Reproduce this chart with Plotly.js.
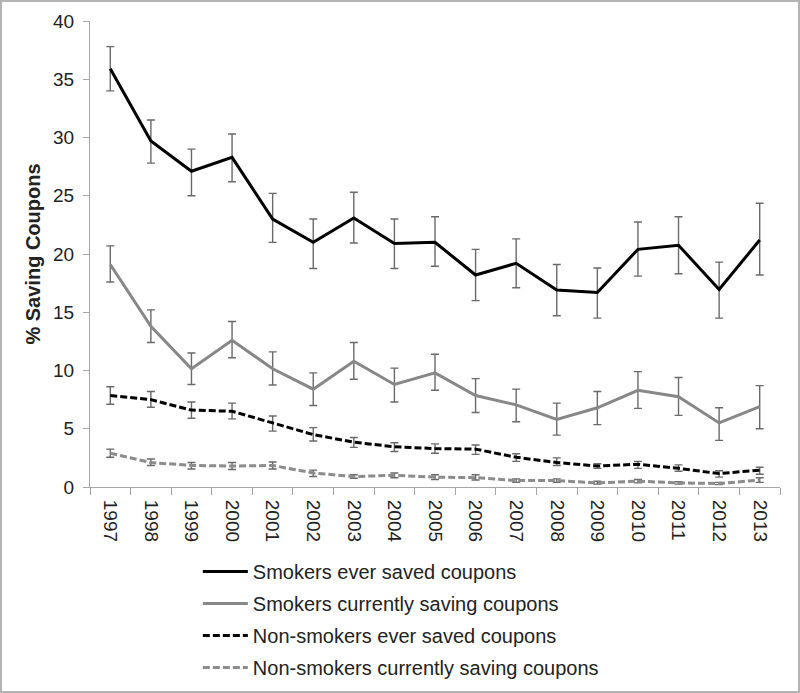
<!DOCTYPE html>
<html>
<head>
<meta charset="utf-8">
<script src="https://cdn.plot.ly/plotly-3.0.1.min.js"></script>
<style>
html,body{margin:0;padding:0;background:#fff;}
#wrap{position:relative;width:800px;height:693px;}
#chart{width:800px;height:693px;}
#frame{position:absolute;left:0;top:0;width:800px;height:693px;box-sizing:border-box;border:2px solid #b4b4b4;pointer-events:none;}
</style>
</head>
<body>
<div id="wrap"><div id="chart"></div><div id="frame"></div></div>
<script>
const years = ["1997","1998","1999","2000","2001","2002","2003","2004","2005","2006","2007","2008","2009","2010","2011","2012","2013"];

const smokersEver      = [35.9, 29.7, 27.1, 28.3, 23.0, 21.0, 23.1, 20.9, 21.0, 18.2, 19.2, 16.9, 16.7, 20.4, 20.75, 16.95, 21.2];
const smokersEverHi    = [37.8, 31.5, 29.0, 30.3, 25.2, 23.0, 25.3, 23.0, 23.2, 20.4, 21.3, 19.1, 18.8, 22.75, 23.2, 19.3, 24.35];
const smokersEverLo    = [34.0, 27.8, 25.0, 26.2, 21.0, 18.75, 20.95, 18.75, 18.95, 16.0, 17.1, 14.7, 14.5, 18.1, 18.3, 14.5, 18.2];

const smokersNow       = [19.1, 13.8, 10.15, 12.6, 10.15, 8.4, 10.8, 8.8, 9.8, 7.85, 7.05, 5.8, 6.8, 8.3, 7.75, 5.5, 6.9];
const smokersNowHi     = [20.7, 15.2, 11.5, 14.2, 11.6, 9.8, 12.4, 10.2, 11.4, 9.3, 8.4, 7.2, 8.2, 9.9, 9.4, 6.8, 8.7];
const smokersNowLo     = [17.6, 12.4, 8.8, 11.1, 8.75, 7.0, 9.25, 7.3, 8.3, 6.4, 5.6, 4.45, 5.35, 6.75, 6.15, 4.0, 5.0];

const nonEver          = [7.85, 7.5, 6.6, 6.5, 5.5, 4.5, 3.85, 3.45, 3.3, 3.25, 2.55, 2.1, 1.8, 1.95, 1.6, 1.15, 1.45];
const nonEverHi        = [8.6, 8.2, 7.3, 7.2, 6.1, 5.1, 4.25, 3.8, 3.7, 3.6, 2.85, 2.5, 2.0, 2.2, 1.9, 1.4, 1.7];
const nonEverLo        = [7.1, 6.85, 5.9, 5.85, 4.8, 3.95, 3.4, 3.05, 2.9, 2.8, 2.2, 1.85, 1.6, 1.6, 1.35, 0.85, 1.1];

const nonNow           = [2.9, 2.1, 1.85, 1.8, 1.85, 1.2, 0.9, 1.0, 0.85, 0.8, 0.55, 0.55, 0.35, 0.5, 0.35, 0.3, 0.6];
const nonNowHi         = [3.25, 2.4, 2.1, 2.1, 2.15, 1.45, 1.05, 1.2, 1.05, 1.05, 0.7, 0.7, 0.5, 0.65, 0.45, 0.4, 0.8];
const nonNowLo         = [2.55, 1.85, 1.55, 1.5, 1.55, 0.9, 0.75, 0.8, 0.65, 0.6, 0.4, 0.4, 0.25, 0.35, 0.25, 0.2, 0.4];

const names = ["Smokers ever saved coupons", "Smokers currently saving coupons", "Non-smokers ever saved coupons", "Non-smokers currently saving coupons"];

function errs(v, hi, lo){
  return {
    type: 'data', symmetric: false,
    array: hi.map((h,i)=>+(h - v[i]).toFixed(3)),
    arrayminus: lo.map((l,i)=>+(v[i] - l).toFixed(3)),
    color: '#6a6a6a', thickness: 1.4, width: 4
  };
}

const series = [
  {v: smokersEver, hi: smokersEverHi, lo: smokersEverLo, color: '#000000', dash: 'solid'},
  {v: smokersNow,  hi: smokersNowHi,  lo: smokersNowLo,  color: '#878787', dash: 'solid'},
  {v: nonEver,     hi: nonEverHi,     lo: nonEverLo,     color: '#000000', dash: '7px,3px'},
  {v: nonNow,      hi: nonNowHi,      lo: nonNowLo,      color: '#8c8c8c', dash: '7px,3px'}
];

const traces = series.map((s, i) => ({
  type: 'scatter', mode: 'lines', x: years, y: s.v, name: names[i],
  legendgroup: 'g' + i,
  line: {color: s.color, width: 3, dash: s.dash},
  error_y: errs(s.v, s.hi, s.lo),
  hoverinfo: 'skip'
}));

const font = {family: '"Liberation Sans", Arial, sans-serif', size: 19, color: '#222'};

const layout = {
  width: 800, height: 693,
  margin: {l: 90, r: 20, t: 21, b: 206, autoexpand: false},
  paper_bgcolor: '#fff', plot_bgcolor: '#fff',
  font: font,
  showlegend: true,
  legend: {
    x: 0.1563, y: -0.1395, xanchor: 'left', yanchor: 'top',
    orientation: 'v', font: {family: font.family, size: 20, color: '#222'},
    itemwidth: 45, tracegroupgap: 3, bgcolor: 'rgba(0,0,0,0)', borderwidth: 0
  },
  xaxis: {
    type: 'category', range: [-0.5, 16.5], tickson: 'boundaries',
    showline: true, linecolor: '#a6a6a6', linewidth: 1,
    ticks: 'outside', ticklen: 7, tickcolor: '#a6a6a6', tickwidth: 1,
    tickangle: 90, showgrid: false, zeroline: false, automargin: false,
    ticklabelstandoff: 8,
    tickfont: {family: font.family, size: 19, color: '#222'}
  },
  yaxis: {
    range: [0, 40], dtick: 5, tick0: 0,
    showline: true, linecolor: '#a6a6a6', linewidth: 1,
    ticks: 'outside', ticklen: 6, tickcolor: '#a6a6a6', tickwidth: 1,
    showgrid: false, zeroline: false, automargin: false,
    ticklabelstandoff: 5,
    tickfont: {family: font.family, size: 19, color: '#222'},
    title: {text: '% Saving Coupons', font: {family: font.family, size: 20, color: '#222', weight: 'bold'}, standoff: 7}
  }
};

Plotly.newPlot('chart', traces, layout, {displayModeBar: false, staticPlot: true});
</script>
</body>
</html>
